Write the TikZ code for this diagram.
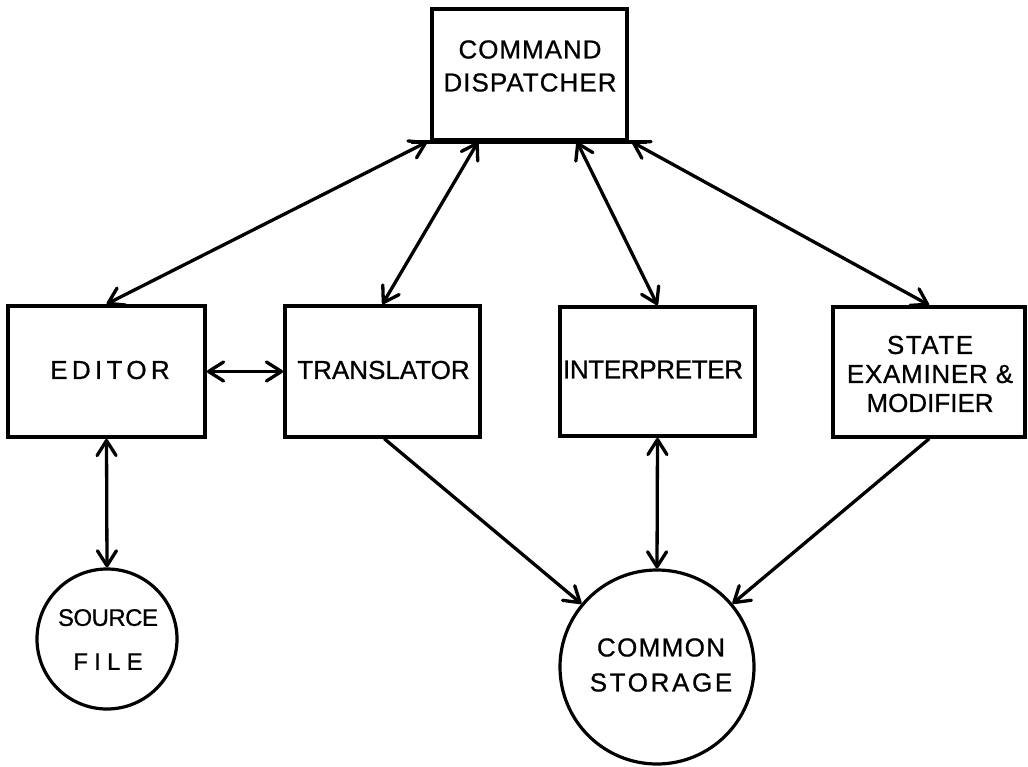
\documentclass[tikz,border=0pt]{standalone}
\usepackage{fontspec}
\setmainfont{Liberation Sans}
% slightly heavier lettering face
\newfontfamily\letterface{Liberation Sans}[FakeBold=0.7]
\usetikzlibrary{arrows.meta}
% letter-spaced text: #1 = extra tracking in percent of the font size
\newcommand\spaced[2]{{\addfontfeatures{LetterSpace=#1}#2}}

\begin{document}
\begin{tikzpicture}[x=1pt, y=-1pt,
  box/.style={draw, line width=3.8pt, rectangle, inner sep=0pt},
  disc/.style={draw, line width=3.2pt, circle, inner sep=0pt},
  lbl/.style={align=center, inner sep=0pt, font=\letterface\fontsize{26}{33}\selectfont},
  link/.style={line width=3.3pt, line cap=round, line join=round},
  >={Straight Barb[length=15pt, width=19pt, line cap=round, line join=round]}]

  \fill[white] (0,0) rectangle (1028,767);
  \useasboundingbox (0,0) rectangle (1028,767);

  % boxes
  \node[box, minimum width=195, minimum height=131] (disp)   at (529.5,74.5) {};
  \node[box, minimum width=197, minimum height=131] (editor) at (106.5,371.5) {};
  \node[box, minimum width=195, minimum height=131] (trans)  at (382.5,371.5) {};
  \node[box, minimum width=195, minimum height=129] (interp) at (657.5,371.5) {};
  \node[box, minimum width=192, minimum height=130] (state)  at (929,372) {};

  % stores
  \node[disc, minimum size=140] (src)   at (107,639) {};
  \node[disc, minimum size=194] (store) at (657,667) {};

  % extended base line under the dispatcher
  \draw[line width=3.8pt] ([xshift=-19]disp.south west) -- ([xshift=18]disp.south east);

  % labels
  \node[lbl] (dispL) at (530,66) {\spaced{3.7}{COMMAND}\\\spaced{4}{DISPATCHER}};
  \node[lbl] (editorL) at (110,370) {\spaced{16.7}{EDITOR}};
  \node[lbl] (transL) at (383.5,370) {\spaced{0}{TRANSLATOR}};
  \node[lbl] (interpL) at (653,369.5) {\spaced{-1.3}{INTERPRETER}};
  \node[lbl, font=\letterface\fontsize{26}{29}\selectfont] (stateL) at (930,374)
    {\spaced{6}{STATE}\\\spaced{2.8}{EXAMINER \&}\\\spaced{0}{MODIFIER}};
  \node[lbl, font=\letterface\fontsize{24}{44}\selectfont] (srcL) at (108,639.5)
    {\spaced{-2.2}{SOURCE}\\\spaced{26}{FILE}};
  \node[lbl, font=\letterface\fontsize{26}{35}\selectfont] (storeL) at (661,665)
    {\spaced{5.2}{COMMON}\\\spaced{10.2}{STORAGE}};

  % connectors
  \draw[link,<->] ([xshift=-3]disp.south west) -- (editor.north);
  \draw[link,<->] ([xshift=-51.5]disp.south) -- (trans.north);
  \draw[link,<->] ([xshift=47.5]disp.south) -- (interp.north);
  \draw[link,<->] ([xshift=3]disp.south east) -- (state.north);
  \draw[link,<->] (editor.east) -- (trans.west);
  \draw[link,<->] (editor.south) -- (src.north);
  \draw[link,<->] (interp.south) -- (store.north);
  \draw[link,->] ([xshift=2]trans.south) -- (store);
  \draw[link,->] (state.south) -- (store);
\end{tikzpicture}
\end{document}
